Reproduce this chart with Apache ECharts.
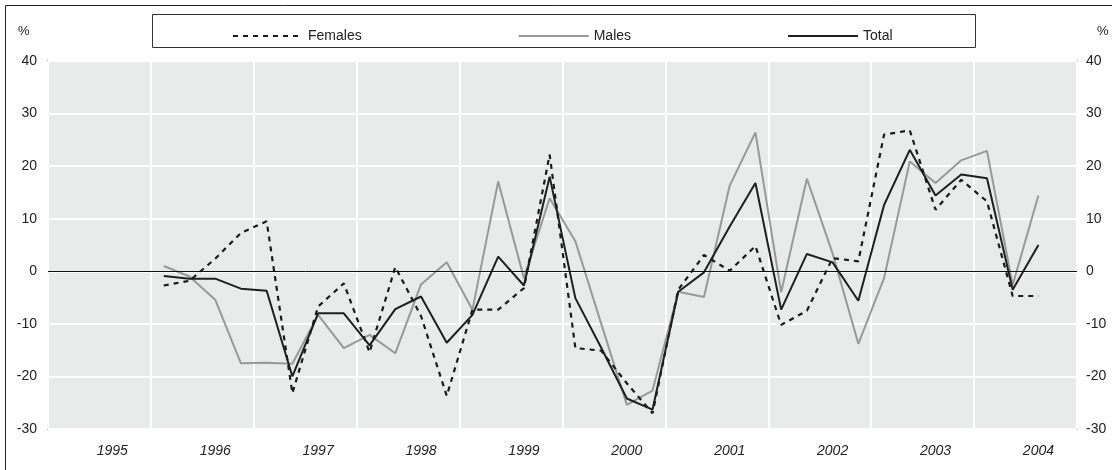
<!DOCTYPE html>
<html>
<head>
<meta charset="utf-8">
<script src="https://cdn.jsdelivr.net/npm/echarts@6/dist/echarts.min.js"></script>
<style>
html,body{margin:0;padding:0;background:#fff;}
#chart{width:1112px;height:470px;}
</style>
</head>
<body>
<div id="chart"></div>
<script>
// Years (x bands), each split into four quarters
const years = ['1995','1996','1997','1998','1999','2000','2001','2002','2003','2004'];
const quarters = ['Q1','Q2','Q3','Q4'];
const categories = [];
years.forEach(y => quarters.forEach(q => categories.push(y + ' ' + q)));

// Series values (%), one per quarter; data start 1996 Q1, end 2004 Q3
const females = [null,null,null,null,
  -2.7,-1.8,2.4,7.3, 9.5,-23.2,-6.7,-2.3, -15.4,0.8,-8.5,-23.7,
  -7.3,-7.3,-3.2,22.2, -14.6,-15.1,-21.3,-27.0, -3.5,3.1,0.1,4.8,
  -10.2,-7.5,2.5,1.9, 26.0,26.8,11.7,17.4, 13.3,-4.7,-4.7,null];
const males = [null,null,null,null,
  1.0,-1.0,-5.4,-17.5, -17.4,-17.6,-8.3,-14.6, -12.1,-15.6,-2.5,1.7,
  -7.3,17.1,-1.3,13.9, 5.7,-9.9,-25.4,-22.7, -3.9,-4.9,16.3,26.4,
  -4.0,17.6,3.4,-13.8, -1.3,20.9,16.8,21.1, 22.9,-2.6,14.4,null];
const total = [null,null,null,null,
  -0.9,-1.4,-1.4,-3.3, -3.7,-20.0,-8.0,-8.0, -14.1,-7.2,-4.8,-13.6,
  -8.3,2.8,-2.7,18.0, -5.1,-14.5,-24.2,-26.3, -3.9,-0.2,8.5,16.8,
  -7.3,3.3,1.7,-5.6, 12.6,23.1,14.4,18.4, 17.7,-3.5,5.0,null];

const seriesNames = ['Females','Males','Total'];
const yTicks = {min: -30, max: 40, interval: 10};
const unitLabel = '%';

const chart = echarts.init(document.getElementById('chart'), null, {renderer: 'canvas'});
const font = 'Liberation Sans, Arial, sans-serif';

const yBase = {
  type: 'value',
  min: yTicks.min, max: yTicks.max, interval: yTicks.interval,
  axisLine: {show: false}, axisTick: {show: false}
};

chart.setOption({
  animation: false,
  backgroundColor: '#ffffff',
  textStyle: {fontFamily: font},
  grid: {
    left: 48, right: 35, top: 61, bottom: 41,
    show: true, backgroundColor: '#e9eaea',
    borderColor: '#6e6e6e', borderWidth: 1.5
  },
  legend: {
    left: 227, top: 24,
    itemWidth: 70, itemHeight: 14, itemGap: 156,
    itemStyle: {opacity: 0},
    textStyle: {fontFamily: font, fontSize: 14, color: '#222'},
    data: seriesNames
  },
  graphic: [
    {type: 'rect', z: -10, silent: true,
     shape: {x: 5.5, y: 5.5, width: 1130, height: 490},
     style: {fill: null, stroke: '#222', lineWidth: 1}},
    {type: 'rect', z: -5, silent: true,
     shape: {x: 152.5, y: 14.5, width: 823, height: 33},
     style: {fill: '#fff', stroke: '#333', lineWidth: 1}},
    {type: 'text', left: 18, top: 25, silent: true,
     style: {text: unitLabel, font: '13px ' + font, fill: '#222'}},
    {type: 'text', left: 1097, top: 25, silent: true,
     style: {text: unitLabel, font: '13px ' + font, fill: '#222'}}
  ],
  xAxis: {
    type: 'category',
    data: categories,
    boundaryGap: true,
    axisLine: {show: false},
    axisTick: {show: false},
    axisLabel: {
      interval: (i) => i % 4 === 2,
      formatter: (v) => v.slice(0, 4),
      fontStyle: 'italic', fontSize: 14, color: '#222', margin: 15,
      fontFamily: font
    },
    splitLine: {show: true, interval: 3, lineStyle: {color: '#ffffff', width: 2}}
  },
  yAxis: [
    Object.assign({}, yBase, {
      position: 'left',
      axisLabel: {fontSize: 14, color: '#222', margin: 11, fontFamily: font},
      splitLine: {show: true, lineStyle: {color: '#ffffff', width: 2}}
    }),
    Object.assign({}, yBase, {
      position: 'right',
      axisLabel: {fontSize: 14, color: '#222', margin: 9, fontFamily: font},
      splitLine: {show: false}
    })
  ],
  series: [
    {
      name: seriesNames[0], type: 'line', data: females, z: 3,
      symbol: 'none', connectNulls: false,
      lineStyle: {color: '#1a1a1a', width: 2.2, type: [5, 5]},
      itemStyle: {color: '#1a1a1a'}
    },
    {
      name: seriesNames[1], type: 'line', data: males, z: 2,
      symbol: 'none',
      lineStyle: {color: '#999999', width: 2},
      itemStyle: {color: '#999999'},
      markLine: {
        silent: true, symbol: ['none', 'none'],
        label: {show: false},
        lineStyle: {color: '#111', width: 1, type: 'solid'},
        data: [{yAxis: 0}]
      }
    },
    {
      name: seriesNames[2], type: 'line', data: total, z: 4,
      symbol: 'none',
      lineStyle: {color: '#1f1f1f', width: 2},
      itemStyle: {color: '#1f1f1f'}
    }
  ]
});
</script>
</body>
</html>
